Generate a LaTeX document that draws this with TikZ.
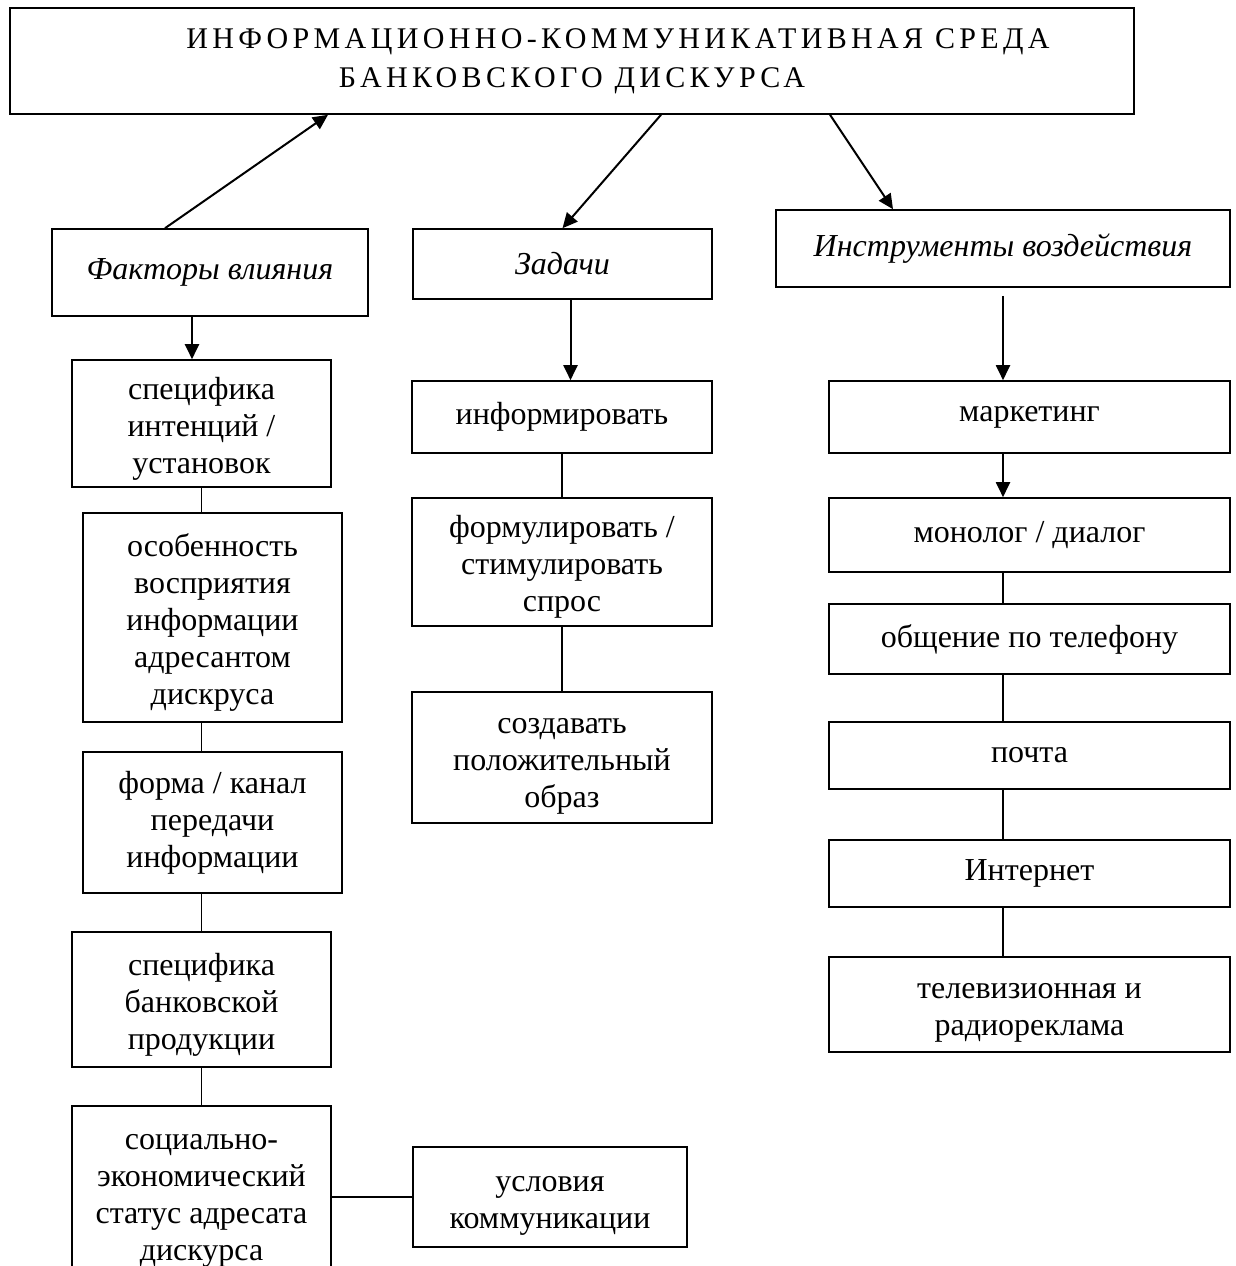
\documentclass[tikz,border=0pt]{standalone}
\usepackage{fontspec}
\setmainfont{Liberation Serif}
\newfontfamily\titlefont[LetterSpace=14.5]{Liberation Serif}
\usetikzlibrary{arrows.meta}
\newcommand\topline{\rule{0pt}{32pt}}

\begin{document}
\begin{tikzpicture}[x=1pt, y=-1pt, >={Triangle[length=15pt,width=14pt]},
box/.style 2 args={draw, line width=1.6pt, align=center, inner sep=0pt,
  minimum width=#1, minimum height=#2, font=\fontsize{32}{37}\selectfont},
arr/.style={->, line width=2pt},
lnk/.style={line width=1.4pt}]
\useasboundingbox (0,0) rectangle (1235,1266);

% top box
\node [box={1124pt}{106pt}, font=\titlefont\fontsize{30}{39}\selectfont] (sreda) at (572,61)
  {\hspace*{92pt}ИНФОРМАЦИОННО-КОММУНИКАТИВНАЯ СРЕДА\\БАНКОВСКОГО ДИСКУРСА};

% headings
\node [box={316pt}{87pt}] (faktory) at (210,272.5) {\itshape Факторы влияния};
\node [box={299pt}{70pt}] (zadachi) at (562.5,264) {\itshape Задачи};
\node [box={454pt}{77pt}] (instr) at (1003,248.5) {\itshape Инструменты воздействия};

% factors
\node [box={259pt}{127pt}] (f1) at (201.5,423.5) {\topline специфика\\интенций /\\установок};
\node [box={259pt}{209pt}] (f2) at (212.5,617.5) {\topline особенность\\восприятия\\информации\\адресантом\\дискруса};
\node [box={259pt}{141pt}] (f3) at (212.5,822.5) {форма / канал\\передачи\\информации};
\node [box={259pt}{135pt}] (f4) at (201.5,999.5) {\topline специфика\\банковской\\продукции};
\node [box={259pt}{190pt}] (f5) at (201.5,1201) {социально-\\экономический\\статус адресата\\дискурса};
\node [box={274pt}{100pt}] (usl) at (550,1197) {\topline условия\\коммуникации};

% tasks
\node [box={300pt}{72pt}] (z1) at (562,417) {информировать};
\node [box={300pt}{128pt}] (z2) at (562,562) {\topline формулировать /\\стимулировать\\спрос};
\node [box={300pt}{131pt}] (z3) at (562,757.5) {\topline создавать\\положительный\\образ};

% tools
\node [box={401pt}{72pt}] (m1) at (1029.5,417) {маркетинг};
\node [box={401pt}{74pt}] (m2) at (1029.5,535) {монолог / диалог};
\node [box={401pt}{70pt}] (m3) at (1029.5,639) {общение по телефону};
\node [box={401pt}{67pt}] (m4) at (1029.5,755.5) {почта};
\node [box={401pt}{67pt}] (m5) at (1029.5,873.5) {Интернет};
\node [box={401pt}{95pt}] (m6) at (1029.5,1004.5) {\topline телевизионная и\\радиореклама};

% arrows from / to the top box
\draw [arr] ([xshift=-45pt]faktory.north) -- ([xshift=-244pt]sreda.south);
\draw [arr] ([xshift=89pt]sreda.south) -- (zadachi.north);
\draw [arr] ([xshift=258pt]sreda.south) -- ([xshift=-110pt]instr.north);

% left column
\draw [arr] ([xshift=-18pt]faktory.south) -- ([xshift=-18pt]faktory.south |- f1.north);
\draw [lnk] (f1.south) -- (f1.south |- f2.north);
\draw [lnk] (f2.south -| f1) -- (f3.north -| f1);
\draw [lnk] (f3.south -| f1) -- (f4.north);
\draw [lnk] (f4.south) -- (f5.north);
\draw [lnk] (f5.east |- usl) -- (usl.west);

% middle column
\draw [arr] ([xshift=8pt]zadachi.south) -- ([xshift=8pt]zadachi.south |- z1.north);
\draw [lnk] (z1.south) -- (z2.north);
\draw [lnk] (z2.south) -- (z3.north);

% right column
\draw [arr] ([yshift=-8pt]instr.south) -- (instr.south |- m1.north);
\draw [arr] (m1.south -| instr) -- (m2.north -| instr);
\draw [lnk] (m2.south -| instr) -- (m3.north -| instr);
\draw [lnk] (m3.south -| instr) -- (m4.north -| instr);
\draw [lnk] (m4.south -| instr) -- (m5.north -| instr);
\draw [lnk] (m5.south -| instr) -- (m6.north -| instr);

\end{tikzpicture}
\end{document}
